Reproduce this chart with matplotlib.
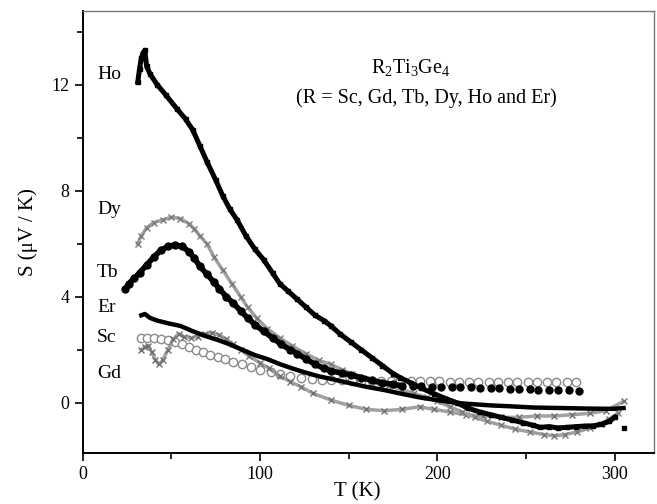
import matplotlib
matplotlib.use("Agg")
import matplotlib.pyplot as plt
import numpy as np

plt.rcParams['font.family'] = ['Liberation Serif', 'DejaVu Serif']
plt.rcParams['mathtext.fontset'] = 'custom'
plt.rcParams['mathtext.rm'] = 'Liberation Serif'
plt.rcParams['mathtext.it'] = 'Liberation Serif:italic'

# ---- data ----
Ho_T = [31, 32, 33, 34, 35, 36, 38, 42, 47, 53, 58, 62, 66, 70, 75, 79, 83, 87, 92, 97,
        102, 107, 111, 116, 121, 126, 131, 136, 140, 145, 151, 157, 163, 169, 175, 179, 185, 191, 198, 205,
        211, 217, 224, 230, 236, 242, 248, 254, 258, 263, 268, 273, 278, 283, 288, 293, 297, 300, 305]
Ho_S = [12.1, 12.6, 13.0, 13.2, 13.3, 12.7, 12.4, 12.0, 11.6, 11.1, 10.7, 10.3, 9.7, 9.1, 8.4, 7.8, 7.3, 6.9, 6.3, 5.8,
        5.4, 4.9, 4.5, 4.2, 3.9, 3.6, 3.3, 3.1, 2.9, 2.6, 2.3, 2.0, 1.7, 1.4, 1.1, 0.95, 0.75, 0.55, 0.34, 0.15,
        0.0, -0.2, -0.35, -0.45, -0.55, -0.65, -0.75, -0.85, -0.93, -0.9, -0.95, -0.93, -0.9, -0.88, -0.87, -0.8, -0.7, -0.55, -0.95]

Tb_T = [24, 26, 29, 32, 36, 40, 44, 48, 52, 56, 60, 63, 66, 70, 74, 77, 81, 85, 89, 93,
        97, 102, 107, 112, 117, 121, 126, 131, 136, 140, 146, 151, 157, 163, 169, 175, 180, 186, 191, 197,
        202, 208, 213, 219, 224, 230, 235, 241, 246, 252, 257, 263, 268, 274, 280]
Tb_S = [4.3, 4.5, 4.7, 4.9, 5.2, 5.5, 5.75, 5.9, 5.95, 5.9, 5.7, 5.45, 5.15, 4.85, 4.55, 4.3, 4.0, 3.75, 3.47, 3.2,
        2.95, 2.7, 2.45, 2.2, 2.0, 1.85, 1.65, 1.45, 1.3, 1.2, 1.12, 1.05, 0.95, 0.85, 0.75, 0.7, 0.64, 0.62, 0.62, 0.6,
        0.6, 0.6, 0.58, 0.58, 0.56, 0.55, 0.55, 0.53, 0.52, 0.52, 0.5, 0.5, 0.48, 0.47, 0.45]

Dy_T = [31, 33, 36, 40, 45, 50, 55, 60, 63, 66, 70, 74, 79, 84, 89, 93, 98, 104, 111, 118,
        126, 133, 140, 146, 152, 158, 165, 172, 180, 187, 194, 200, 207, 214, 221, 228, 236, 244, 252, 260,
        266, 272, 279, 286, 292, 297, 302]
Dy_S = [6.0, 6.3, 6.6, 6.8, 6.9, 7.0, 6.95, 6.75, 6.55, 6.3, 6.0, 5.5, 5.0, 4.5, 4.0, 3.6, 3.2, 2.8, 2.45, 2.15,
        1.85, 1.6, 1.45, 1.25, 1.1, 0.95, 0.8, 0.65, 0.5, 0.35, 0.2, 0.05, -0.15, -0.35, -0.55, -0.7, -0.85, -1.0, -1.1, -1.2,
        -1.25, -1.2, -1.1, -0.95, -0.8, -0.6, -0.4]

Gd_T = [33, 35, 37, 39, 41, 43, 45, 48, 51, 54, 57, 61, 65, 69, 73, 77, 81, 85, 89, 94,
        100, 105, 111, 117, 123, 130, 140, 150, 160, 170, 180, 190, 198, 207, 216, 226, 236, 246, 256, 266,
        276, 286, 295, 305]
Gd_S = [2.0, 2.1, 2.15, 1.9, 1.6, 1.45, 1.6, 2.0, 2.4, 2.6, 2.5, 2.45, 2.5, 2.6, 2.65, 2.55, 2.4, 2.2, 2.0, 1.75,
        1.5, 1.3, 1.0, 0.8, 0.6, 0.35, 0.1, -0.1, -0.25, -0.3, -0.25, -0.15, -0.25, -0.35, -0.45, -0.5, -0.55, -0.55, -0.5, -0.5,
        -0.45, -0.4, -0.3, 0.05]

Sc_T = [33, 36, 40, 44, 48, 52, 56, 60, 64, 68, 72, 76, 80, 85, 90, 95, 100, 106, 111, 117,
        123, 129, 135, 140, 146, 152, 157, 163, 168, 174, 179, 185, 190, 196, 201, 207, 212, 218, 223, 229,
        234, 240, 245, 251, 256, 262, 267, 273, 278]
Sc_S = [2.45, 2.45, 2.45, 2.4, 2.35, 2.3, 2.2, 2.1, 2.0, 1.9, 1.8, 1.72, 1.65, 1.55, 1.45, 1.35, 1.25, 1.15, 1.08, 1.0,
        0.95, 0.9, 0.87, 0.85, 0.84, 0.83, 0.83, 0.83, 0.82, 0.82, 0.82, 0.82, 0.81, 0.81, 0.81, 0.8, 0.8, 0.8, 0.8, 0.8,
        0.79, 0.79, 0.79, 0.78, 0.78, 0.78, 0.77, 0.77, 0.77]

Er_T = [33, 35, 38, 42, 48, 55, 62, 70, 77, 83, 90, 97, 104, 111, 118, 125, 133, 140, 150, 160,
        170, 179, 190, 200, 210, 217, 230, 240, 254, 270, 285, 299, 305]
Er_S = [3.3, 3.35, 3.2, 3.1, 3.0, 2.9, 2.7, 2.5, 2.35, 2.2, 2.0, 1.8, 1.65, 1.46, 1.3, 1.15, 1.0, 0.9, 0.75, 0.6,
        0.48, 0.35, 0.2, 0.1, 0.0, -0.04, -0.1, -0.13, -0.18, -0.2, -0.22, -0.23, -0.2]

series_labels = ["Ho", "Dy", "Tb", "Er", "Sc", "Gd"]
label_S = [12.4, 7.3, 4.9, 3.6, 2.45, 1.1]

x_ticks = [0, 100, 200, 300]
y_ticks = [0, 4, 8, 12]

# ---- figure ----
fig = plt.figure(figsize=(6.57, 5.04), dpi=100)
ax = fig.add_axes([0.126, 0.101, 0.869, 0.878])

grey = '#8a8a8a'

# Sc: open grey circles
ax.plot(Sc_T, Sc_S, linestyle='none', marker='o', ms=6, mfc='white', mec=grey, mew=1.0, zorder=2)
# Gd: grey stars
ax.plot(Gd_T, Gd_S, color=grey, lw=2.5, alpha=0.8, zorder=2)
ax.plot(Gd_T, Gd_S, linestyle='none', marker='x', ms=5, mec='#707070', mew=1.0, zorder=2)
# Dy: grey crosses
ax.plot(Dy_T, Dy_S, color='#a0a0a0', lw=2.5, zorder=2)
ax.plot(Dy_T, Dy_S, linestyle='none', marker='x', ms=5, mec='#7a7a7a', mew=1.0, zorder=2)
# Tb: filled black circles
n_dense = sum(1 for t in Tb_T if t <= 180)
ax.plot(Tb_T[:n_dense], Tb_S[:n_dense], color='black', lw=4, zorder=3)
ax.plot(Tb_T, Tb_S, linestyle='none', marker='o', ms=5, color='black', zorder=3)
# Er: black thick line
ax.plot(Er_T, Er_S, color='black', lw=3.2, zorder=3)
# Ho: black squares
ax.plot(Ho_T[:-1], Ho_S[:-1], color='black', lw=3.6, zorder=4)
ax.plot(Ho_T, Ho_S, linestyle='none', marker='s', ms=3.5, color='black', zorder=4)

for name, s in zip(series_labels, label_S):
    ax.text(8, s, name, fontsize=14, ha='left', va='center')

ax.text(185, 12.65, r'R$_2$Ti$_3$Ge$_4$', fontsize=14.5, ha='center', va='center')
ax.text(194, 11.5, '(R = Sc, Gd, Tb, Dy, Ho and Er)', fontsize=14.5, ha='center', va='center')

ax.set_xlim(0, 322)
ax.set_ylim(-1.9, 14.8)
ax.set_xticks(x_ticks)
ax.set_yticks(y_ticks)
ax.set_xticks([50, 150, 250], minor=True)
ax.set_yticks([2, 6, 10, 14], minor=True)
ax.tick_params(which='both', direction='out', top=False, right=False, labelsize=13, width=1.2)
ax.tick_params(which='major', length=6)
ax.tick_params(which='minor', length=4)
for sp in ['left', 'bottom']:
    ax.spines[sp].set_linewidth(1.4)
for sp in ['top', 'right']:
    ax.spines[sp].set_linewidth(1.0)
    ax.spines[sp].set_color('#777777')

ax.set_xlabel('T (K)', fontsize=15, labelpad=2)
ax.xaxis.set_label_coords(0.48, -0.065)
ax.set_ylabel('S (μV / K)', fontsize=15, labelpad=10)

fig.savefig('out.png', dpi=100)
